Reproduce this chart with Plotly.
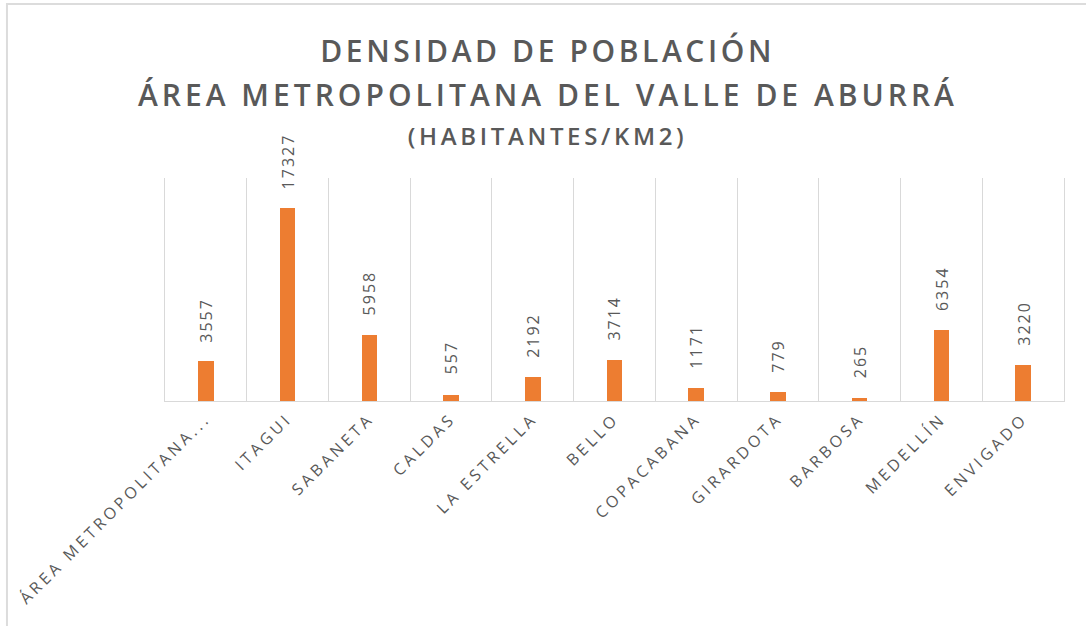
import plotly.graph_objects as go

categories = ["ÁREA METROPOLITANA...", "ITAGUI", "SABANETA", "CALDAS", "LA ESTRELLA",
              "BELLO", "COPACABANA", "GIRARDOTA", "BARBOSA", "MEDELLÍN", "ENVIGADO"]
densidad = [3557, 17327, 5958, 557, 2192, 3714, 1171, 779, 265, 6354, 3220]
title_lines = ["DENSIDAD DE POBLACIÓN", "ÁREA METROPOLITANA DEL VALLE DE ABURRÁ", "(HABITANTES/KM2)"]

GRAY = "#595959"
FONT = "Open Sans"

fig = go.Figure(go.Bar(
    x=categories, y=densidad, width=0.19,
    marker=dict(color="#ED7D31", line=dict(width=0)),
    hoverinfo="x+y",
))

annotations = []
for c, v in zip(categories, densidad):
    annotations.append(dict(
        x=c, y=v, xref="x", yref="y", text=str(v), showarrow=False,
        textangle=-90, yanchor="bottom", xanchor="center", yshift=21,
        font=dict(family=FONT, size=16, color=GRAY),
    ))

title_pos = [(1.573, 30), (1.373, 30), (1.19, 24)]
for txt, (yp, sz) in zip(title_lines, title_pos):
    annotations.append(dict(
        x=0.426, y=yp, xref="paper", yref="paper", text=txt, showarrow=False,
        xanchor="center", yanchor="middle",
        font=dict(family=FONT, size=sz, color=GRAY, weight=600),
    ))

fig.update_layout(
    template="none",
    width=1086, height=626,
    margin=dict(l=165, r=22, t=178, b=225, autoexpand=False),
    paper_bgcolor="white", plot_bgcolor="white",
    showlegend=False,
    bargap=0,
    annotations=annotations,
    shapes=[dict(type="rect", xref="paper", yref="paper",
                 x0=-0.1758, x1=2.0, y0=-2.0, y1=1.78,
                 line=dict(color="#dcdcdc", width=2), layer="below")],
    xaxis=dict(
        type="category", range=[-0.5, 10.5], tickson="boundaries",
        showgrid=True, gridcolor="#d9d9d9", gridwidth=1,
        showline=True, linecolor="#d9d9d9", linewidth=1,
        ticks="", tickangle=-45, automargin=False, ticklabelstandoff=1,
        tickfont=dict(family=FONT, size=16, color=GRAY),
        zeroline=False,
    ),
    yaxis=dict(
        range=[0, 20000], showticklabels=False, ticks="", showgrid=False, zeroline=False,
        automargin=False, showline=True, mirror=True, linecolor="#d9d9d9", linewidth=1,
    ),
)

post = """
var s = document.createElement('style');
s.textContent = 'body{margin:0;} .xtick text{letter-spacing:3.6px;} .annotation text{letter-spacing:2px;} '
  + '.annotation[data-index="11"] text{letter-spacing:3.6px;} '
  + '.annotation[data-index="12"] text{letter-spacing:4px;} '
  + '.annotation[data-index="13"] text{letter-spacing:3.65px;}';
document.head.appendChild(s);
"""

fig.write_html("out.html", post_script=post, config={"displayModeBar": False})
